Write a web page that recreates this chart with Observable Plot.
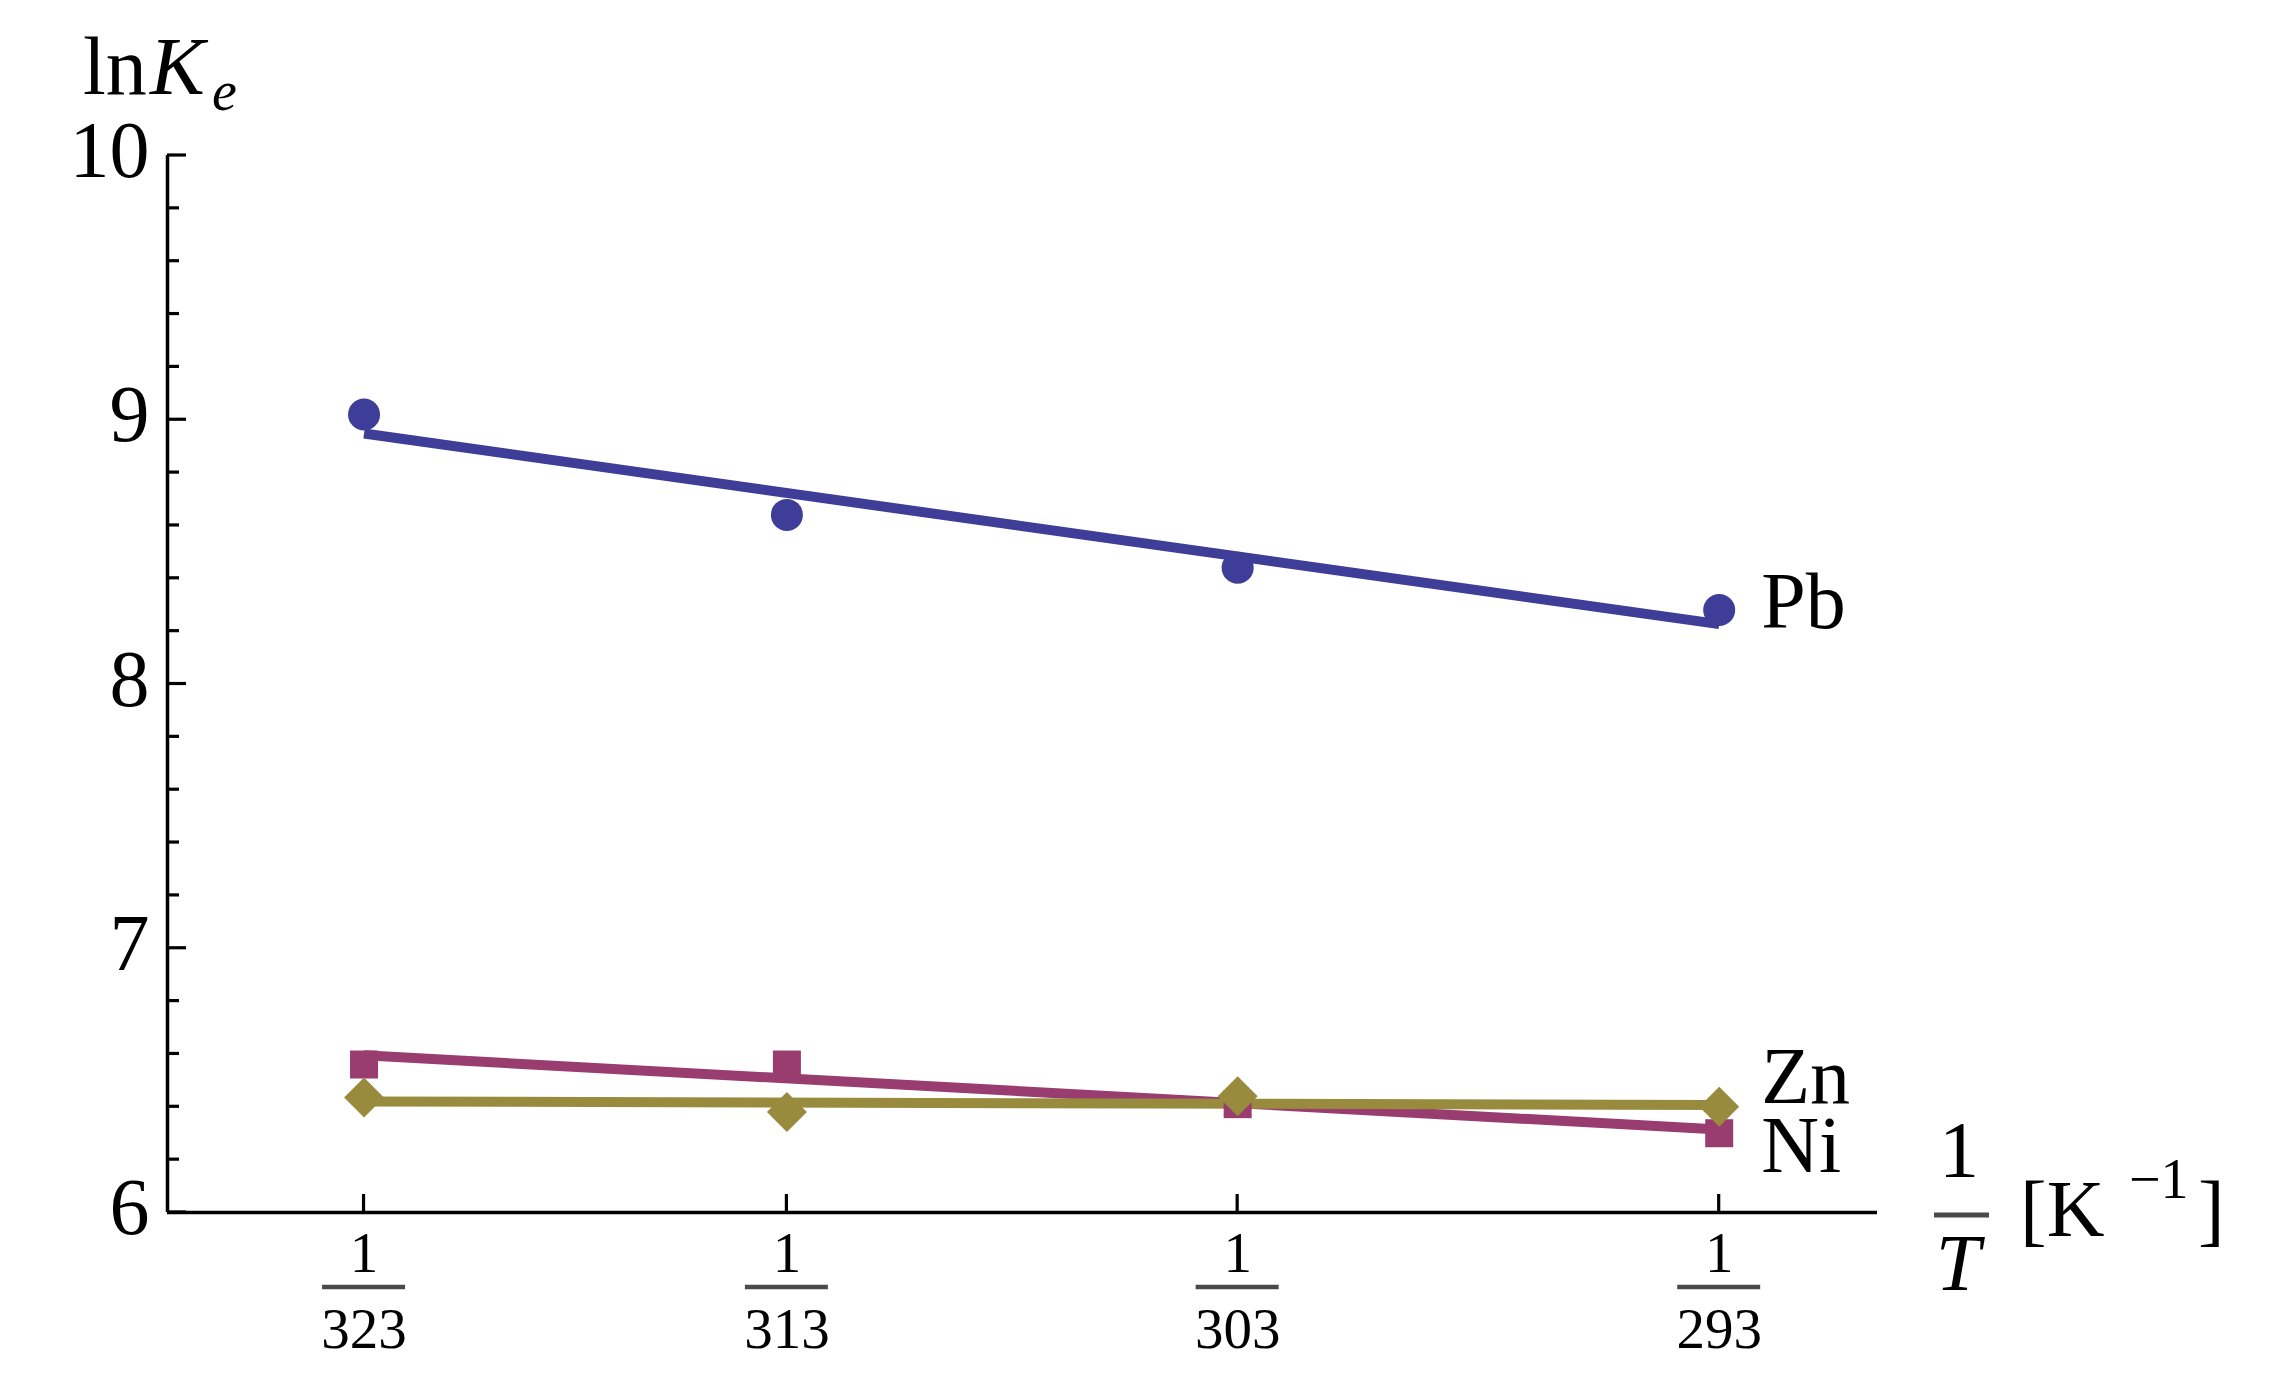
<!DOCTYPE html>
<html><head><meta charset="utf-8">
<script src="https://cdn.jsdelivr.net/npm/d3@7"></script>
<script src="https://cdn.jsdelivr.net/npm/@observablehq/plot@0.6"></script>
<style>body{margin:0;background:#fff} svg{display:block} svg text{font-family:"Liberation Serif","Times New Roman",Times,serif}</style>
</head><body><div id="chart"></div>
<script>
// ---- data ----
const temperatures = [323, 313, 303, 293];           // K, x = 1/T
const pbValues = [9.02, 8.64, 8.44, 8.28];           // ln Ke
const znValues = [6.56, 6.56, 6.41, 6.30];
const niValues = [6.435, 6.38, 6.44, 6.40];
const seriesNames = ["Pb", "Zn", "Ni"];
const yTickLabels = [6, 7, 8, 9, 10];
const labelNames = ["Pb", "Zn", "Ni"];
const labelValues = [8.31, 6.51, 6.25];               // ln Ke level of each series label

// ---- build tables ----
const seriesValues = {Pb: pbValues, Zn: znValues, Ni: niValues};
const rows = seriesNames.flatMap(s => temperatures.map((t, i) => ({series: s, T: t, v: seriesValues[s][i]})));
const labels = labelNames.map((n, i) => ({name: n, T: temperatures[temperatures.length - 1], v: labelValues[i]}));
const minorTicks = d3.range(6, 10.0001, 0.2).map(d => +d.toFixed(1));

const colors = {Pb: "#3e3d98", Zn: "#993d71", Ni: "#998b3d"};
const symbols = {Pb: "circle", Zn: "square", Ni: "diamond2"};
const sizes = {Pb: 16, Zn: 15.8, Ni: 18};
const FONT = "'Liberation Serif', 'Times New Roman', Times, serif";

const W = 2274, H = 1384;
const marks = [
  Plot.ruleX([0.00305], {stroke: "#000", strokeWidth: 3.5}),
  Plot.ruleY([6], {stroke: "#000", strokeWidth: 3.5}),
  Plot.text(yTickLabels, {y: d => d, frameAnchor: "left", dx: -18, dy: -4, textAnchor: "end", text: d => String(d), fontSize: 80, fill: "#000"}),
  Plot.text(temperatures, {x: t => 1 / t, frameAnchor: "bottom", lineAnchor: "middle", dy: 41, text: () => "1", fontSize: 57, fill: "#000"}),
  Plot.text(temperatures, {x: t => 1 / t, frameAnchor: "bottom", lineAnchor: "middle", dy: 117, text: t => String(t), fontSize: 57, fill: "#000"})
];
for (const s of seriesNames) {
  marks.push(Plot.linearRegressionY(rows.filter(r => r.series === s), {x: r => 1 / r.T, y: "v", stroke: colors[s], strokeWidth: 10, ci: 0, strokeLinecap: "butt"}));
}
for (const s of seriesNames) {
  marks.push(Plot.dot(rows.filter(r => r.series === s), {x: r => 1 / r.T, y: "v", fill: colors[s], symbol: symbols[s], r: sizes[s], stroke: "none"}));
}
marks.push(Plot.text(labels, {x: d => 1 / d.T, y: "v", text: "name", dx: 42, textAnchor: "start", fontSize: 80, fill: "#000"}));

const chart = Plot.plot({
  width: W, height: H,
  marginLeft: 167, marginRight: W - 1877, marginTop: 155, marginBottom: H - 1212,
  style: {fontFamily: FONT, background: "#fff"},
  x: {domain: [0.00305, 0.00345], axis: null},
  y: {domain: [6, 10], axis: null},
  marks
});
document.getElementById("chart").appendChild(chart);

// ---- ticks, fraction bars and titles, positioned through Plot's scales ----
const xs = chart.scale("x"), ys = chart.scale("y");
const svg = d3.select(chart);
const x0 = xs.apply(0.00305), yBase = ys.apply(6);
const g = svg.append("g").attr("stroke", "#000").attr("stroke-width", 3.2);
for (const v of minorTicks) {
  const major = Number.isInteger(v);
  g.append("line").attr("x1", x0).attr("x2", x0 + (major ? 19 : 12)).attr("y1", ys.apply(v)).attr("y2", ys.apply(v));
}
for (const t of temperatures) {
  const x = xs.apply(1 / t);
  g.append("line").attr("x1", x).attr("x2", x).attr("y1", yBase).attr("y2", yBase - 18);
  svg.append("line").attr("x1", x - 41.5).attr("x2", x + 41.5).attr("y1", yBase + 75).attr("y2", yBase + 75)
    .attr("stroke", "#4a4a4a").attr("stroke-width", 4.5);
}
// y title: ln K_e
const yt = svg.append("text").attr("fill", "#000").attr("text-anchor", "start").attr("font-size", 82).attr("x", 83).attr("y", 94);
yt.append("tspan").text("ln");
yt.append("tspan").attr("x", 150).attr("font-style", "italic").text("K");
yt.append("tspan").attr("x", 212).attr("y", 110).attr("font-style", "italic").attr("font-size", 56).text("e");
// x title: 1/T [K^-1]
const xt = svg.append("g").attr("fill", "#000");
xt.append("text").attr("x", 1959).attr("y", 1177).attr("font-size", 80).attr("text-anchor", "middle").text("1");
xt.append("line").attr("x1", 1934).attr("x2", 1989).attr("y1", 1215).attr("y2", 1215).attr("stroke", "#4a4a4a").attr("stroke-width", 5);
xt.append("text").attr("x", 1958).attr("y", 1290).attr("font-size", 80).attr("font-style", "italic").attr("text-anchor", "middle").text("T");
const kt = xt.append("text").attr("y", 1236).attr("font-size", 80).attr("text-anchor", "start");
kt.append("tspan").attr("x", 2020).text("[K");
kt.append("tspan").attr("x", 2129).attr("y", 1198).attr("font-size", 56).text("\u22121");
kt.append("tspan").attr("x", 2198).attr("y", 1236).text("]");
</script>
</body></html>
